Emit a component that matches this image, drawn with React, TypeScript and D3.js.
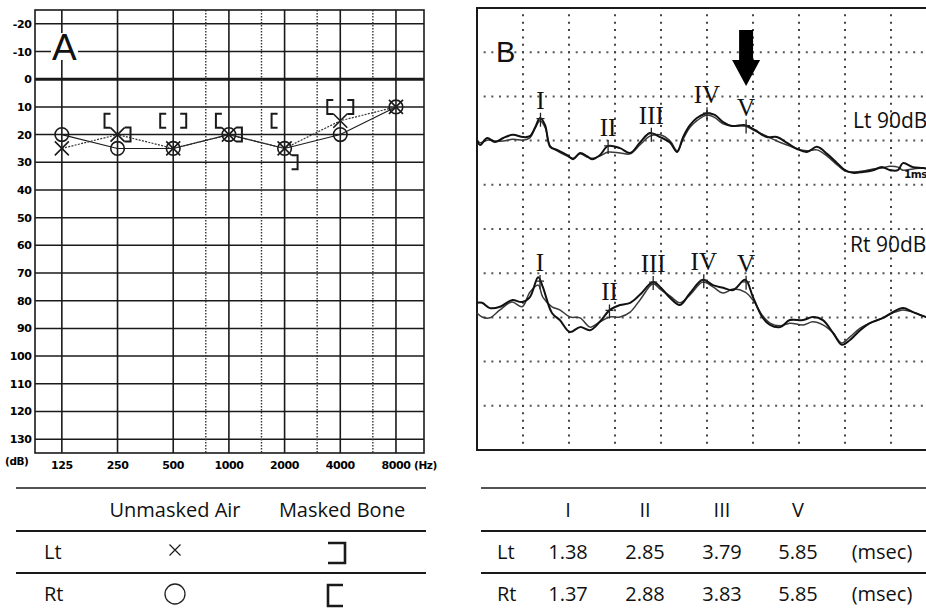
import React from "react";
import * as d3 from "d3";

// ---------- Panel A: audiogram ----------
const freqs = [125, 250, 500, 1000, 2000, 4000, 8000];
const freqLabels = ["125", "250", "500", "1000", "2000", "4000", "8000"];
const minorFreqs = [750, 1500, 3000, 6000];
const dbTicks = [-20, -10, 0, 10, 20, 30, 40, 50, 60, 70, 80, 90, 100, 110, 120, 130];
const ltAir = [25, 20, 25, 20, 25, 15, 10];
const rtAir = [20, 25, 25, 20, 25, 20, 10];
const boneFreqs = [250, 500, 1000, 2000, 4000];
const rtBone = [15, 15, 15, 15, 10];
const ltBone = [20, 15, 20, 30, 10];

// ---------- Panel B: ABR ----------
const ltTime = [0, 0.07, 0.22, 0.39, 0.57, 0.78, 1.0, 1.15, 1.26, 1.37, 1.48, 1.59, 1.74, 1.96, 2.09, 2.24, 2.39, 2.5, 2.67, 2.85, 3.11, 3.33, 3.54, 3.76, 3.98, 4.2, 4.35, 4.48, 4.63, 4.78, 5.0, 5.17, 5.35, 5.54, 5.83, 6.04, 6.3, 6.52, 6.74, 6.96, 7.17, 7.39, 7.61, 7.83, 8.0, 8.17, 8.39, 8.61, 8.8, 8.98, 9.15, 9.26, 9.48, 9.7, 9.96];
const ltTrace1 = [7.01, 6.9, 7.06, 6.97, 7.06, 7.13, 7.08, 7.1, 7.29, 7.51, 7.35, 6.86, 6.79, 6.67, 6.58, 6.72, 6.65, 6.58, 6.67, 6.88, 6.83, 6.72, 6.95, 7.17, 7.08, 6.95, 6.74, 7.08, 7.35, 7.51, 7.62, 7.58, 7.42, 7.33, 7.35, 7.24, 7.08, 7.08, 6.95, 6.81, 6.74, 6.86, 6.7, 6.49, 6.33, 6.27, 6.29, 6.33, 6.4, 6.33, 6.33, 6.49, 6.4, 6.38, 6.33];
const ltTrace2 = [7.01, 6.95, 7.01, 6.99, 6.99, 7.03, 7.01, 7.06, 7.27, 7.45, 7.3, 6.88, 6.77, 6.65, 6.6, 6.7, 6.63, 6.6, 6.65, 6.74, 6.72, 6.7, 6.9, 7.1, 7.13, 6.99, 6.77, 7.03, 7.3, 7.45, 7.58, 7.52, 7.38, 7.33, 7.33, 7.22, 7.1, 6.99, 6.9, 6.81, 6.77, 6.79, 6.65, 6.45, 6.31, 6.29, 6.31, 6.36, 6.38, 6.42, 6.4, 6.33, 6.36, 6.38, 6.31];
const rtTime = [0, 0.11, 0.28, 0.5, 0.76, 0.98, 1.15, 1.33, 1.43, 1.63, 1.8, 2.02, 2.24, 2.46, 2.67, 2.89, 3.11, 3.33, 3.54, 3.83, 3.98, 4.2, 4.41, 4.63, 4.91, 5.13, 5.35, 5.57, 5.83, 6.0, 6.2, 6.37, 6.59, 6.8, 7.09, 7.3, 7.52, 7.74, 7.93, 8.11, 8.33, 8.54, 8.83, 9.04, 9.26, 9.48, 9.76, 10];
const rtTrace1 = [3.33, 3.33, 3.21, 3.24, 3.39, 3.35, 3.46, 3.91, 3.69, 3.1, 2.94, 2.67, 2.78, 2.71, 2.9, 3.17, 3.28, 3.33, 3.51, 3.8, 3.69, 3.44, 3.28, 3.55, 3.85, 3.73, 3.67, 3.62, 3.85, 3.46, 3.01, 2.83, 2.78, 2.94, 2.94, 3.01, 2.94, 2.65, 2.38, 2.49, 2.71, 2.87, 2.99, 3.12, 3.21, 3.12, 3.01, 2.99];
const rtTrace2 = [3.1, 3.01, 2.99, 3.17, 3.35, 3.24, 3.57, 3.73, 3.46, 3.24, 3.17, 3.01, 2.99, 2.78, 2.9, 3.01, 3.01, 3.12, 3.39, 3.76, 3.64, 3.48, 3.33, 3.51, 3.8, 3.69, 3.55, 3.64, 3.57, 3.39, 3.05, 2.87, 2.81, 2.87, 2.83, 2.9, 2.83, 2.65, 2.42, 2.56, 2.76, 2.87, 2.99, 3.1, 3.17, 3.12, 3.01, 2.99];
const peakNames = ["I", "II", "III", "IV", "V"];
const ltPeaks = [1.38, 2.85, 3.79, 5.0, 5.85];
const rtPeaks = [1.37, 2.88, 3.83, 4.93, 5.85];

// ---------- Tables ----------
const legendCols = ["Unmasked Air", "Masked Bone"];
const sideRows = ["Lt", "Rt"];
const latencyCols = ["I", "II", "III", "V"];
const ltLatency = ["1.38", "2.85", "3.79", "5.85"];
const rtLatency = ["1.37", "2.88", "3.83", "5.85"];
const unitLabel = "(msec)";

const INK = "#1a1a1a";
const SANS = "'Open Sans', 'Liberation Sans', sans-serif";
const TICKFONT = "'DejaVu Sans', Verdana, sans-serif";

function interp(t: number, ts: number[], vs: number[]) {
  for (let i = 0; i < ts.length - 1; i++) {
    if (t >= ts[i] && t <= ts[i + 1]) {
      const f = (t - ts[i]) / (ts[i + 1] - ts[i]);
      return vs[i] + f * (vs[i + 1] - vs[i]);
    }
  }
  return vs[vs.length - 1];
}

export default function App() {
  // Panel A scales
  const xA = d3.scaleLog().base(2).domain([89.5, 11340]).range([35, 424]);
  const yA = d3.scaleLinear().domain([-25, 135]).range([10, 453]);
  // Panel B scales
  const xB = d3.scaleLinear().domain([0, 10]).range([477, 937]);
  const yB = d3.scaleLinear().domain([0, 10]).range([450, 8]);

  const airLine = d3
    .line<number>()
    .x((_, i) => xA(freqs[i]))
    .y((d) => yA(d));

  const trace = (ts: number[]) =>
    d3
      .line<number>()
      .x((_, i) => xB(ts[i]))
      .y((d) => yB(d))
      .curve(d3.curveCatmullRom.alpha(0.5));

  const aLeft = xA.range()[0];
  const aRight = xA.range()[1];
  const bLeft = xB.range()[0];
  const bRight = xB.range()[1];

  const cross = (cx: number, cy: number, r: number, key: string, sw = 1.6) => (
    <path
      key={key}
      d={`M${cx - r},${cy - r}L${cx + r},${cy + r}M${cx - r},${cy + r}L${cx + r},${cy - r}`}
      stroke={INK}
      strokeWidth={sw}
      fill="none"
    />
  );

  const bGridX = d3.range(1, 10).map((k) => xB(k));
  const bGridY = d3.range(1, 10).map((k) => yB(k));

  const renderPeaks = (peaks: number[], ts: number[], vs: number[], pref: string) =>
    peaks.map((p, i) => {
      const px = xB(p);
      const py = yB(interp(p, ts, vs));
      return (
        <g key={pref + i}>
          <path
            d={`M${px},${py - 6}V${py + 8}M${px - 4},${py}H${px + 4}`}
            stroke="#222"
            strokeWidth={1.3}
            fill="none"
          />
          <text
            x={px}
            y={py - 10}
            textAnchor="middle"
            fontFamily="'Liberation Serif', 'Times New Roman', serif"
            fontSize={25}
            fill="#111"
          >
            {peakNames[i]}
          </text>
        </g>
      );
    });

  const tableY = [488, 531, 573];
  const rowBase = [559, 601];
  const headBase = 517;
  const legX = [175, 342];
  const latX = [568, 645, 722, 798];

  return (
    <svg
      width={926}
      height={613}
      style={{ position: "absolute", left: 0, top: 0, background: "#fff" }}
    >
      <rect x={0} y={0} width={926} height={613} fill="#fff" />

      {/* ===== Panel A ===== */}
      <g>
        {dbTicks.map((d) => (
          <line
            key={"h" + d}
            x1={aLeft}
            x2={aRight}
            y1={yA(d)}
            y2={yA(d)}
            stroke={INK}
            strokeWidth={d === 0 ? 3 : 1.5}
          />
        ))}
        {freqs.map((f) => (
          <line key={"v" + f} x1={xA(f)} x2={xA(f)} y1={yA(-25)} y2={yA(135)} stroke={INK} strokeWidth={1.6} />
        ))}
        {minorFreqs.map((f) => (
          <line
            key={"m" + f}
            x1={xA(f)}
            x2={xA(f)}
            y1={yA(-25)}
            y2={yA(135)}
            stroke="#333"
            strokeWidth={1.4}
            strokeDasharray="1.5,1.5"
          />
        ))}
        <rect x={aLeft} y={yA(-25)} width={aRight - aLeft} height={yA(135) - yA(-25)} fill="none" stroke={INK} strokeWidth={1.6} />

        {dbTicks.map((d) => (
          <text
            key={"yt" + d}
            x={31.5}
            y={yA(d) + 4}
            textAnchor="end"
            fontFamily={TICKFONT}
            fontWeight="bold"
            fontSize={11}
            letterSpacing={-0.4}
            fill="#000"
          >
            {d}
          </text>
        ))}
        {freqs.map((f, i) => (
          <text
            key={"xt" + f}
            x={xA(f)}
            y={469}
            textAnchor="middle"
            fontFamily={TICKFONT}
            fontWeight="bold"
            fontSize={11}
            letterSpacing={-0.4}
            fill="#000"
          >
            {freqLabels[i]}
          </text>
        ))}
        <text x={5} y={465} fontFamily={TICKFONT} fontWeight="bold" fontSize={10.5} letterSpacing={-0.4} fill="#000">
          (dB)
        </text>
        <text x={414} y={469} fontFamily={TICKFONT} fontWeight="bold" fontSize={10.5} letterSpacing={-0.4} fill="#000">
          (Hz)
        </text>

        {/* A label */}
        <rect x={51} y={33} width={27} height={27} fill="#fff" />
        <text x={52} y={60} fontFamily="'Liberation Sans', Arial, sans-serif" fontSize={37} fill="#111">
          A
        </text>

        {/* air lines */}
        <path d={airLine(rtAir) || ""} fill="none" stroke={INK} strokeWidth={1.1} />
        <path d={airLine(ltAir) || ""} fill="none" stroke="#333" strokeWidth={1.2} strokeDasharray="2,1.3" />

        {/* Rt air: circles */}
        {rtAir.map((d, i) => (
          <circle key={"o" + i} cx={xA(freqs[i])} cy={yA(d)} r={6.8} fill="none" stroke={INK} strokeWidth={1.6} />
        ))}
        {/* Lt air: crosses */}
        {ltAir.map((d, i) => cross(xA(freqs[i]), yA(d), 7, "x" + i))}

        {/* Masked bone */}
        {rtBone.map((d, i) => {
          const cx = xA(boneFreqs[i]);
          const cy = yA(d);
          return (
            <path
              key={"rb" + i}
              d={`M${cx - 7},${cy - 7}H${cx - 13}V${cy + 7}H${cx - 7}`}
              fill="none"
              stroke={INK}
              strokeWidth={2}
            />
          );
        })}
        {ltBone.map((d, i) => {
          const cx = xA(boneFreqs[i]);
          const cy = yA(d);
          return (
            <path
              key={"lb" + i}
              d={`M${cx + 7},${cy - 7}H${cx + 13}V${cy + 7}H${cx + 7}`}
              fill="none"
              stroke={INK}
              strokeWidth={2}
            />
          );
        })}
      </g>

      {/* ===== Panel B ===== */}
      <g>
        {bGridY.map((y, i) => (
          <line
            key={"bh" + i}
            x1={bLeft}
            x2={bRight}
            y1={y}
            y2={y}
            stroke="#555"
            strokeWidth={2}
            strokeDasharray="2,5.67"
            strokeDashoffset={-6.67}
          />
        ))}
        {bGridX.map((x, i) => (
          <line
            key={"bv" + i}
            x1={x}
            x2={x}
            y1={yB(10)}
            y2={yB(0)}
            stroke="#444"
            strokeWidth={2}
            strokeDasharray="2,5.37"
            strokeDashoffset={-6.37}
          />
        ))}
        <path
          d={`M${bRight},${yB(10)}H${bLeft}V${yB(0)}H${bRight}`}
          fill="none"
          stroke={INK}
          strokeWidth={2}
        />

        {/* B label */}
        <text x={496} y={62} fontFamily="'Liberation Sans', Arial, sans-serif" fontSize={29} fill="#111">
          B
        </text>

        {/* traces */}
        <path d={trace(ltTime)(ltTrace2) || ""} fill="none" stroke="#3a3a3a" strokeWidth={1.5} />
        <path d={trace(ltTime)(ltTrace1) || ""} fill="none" stroke="#111" strokeWidth={2} />
        <path d={trace(rtTime)(rtTrace2) || ""} fill="none" stroke="#3a3a3a" strokeWidth={1.5} />
        <path d={trace(rtTime)(rtTrace1) || ""} fill="none" stroke="#111" strokeWidth={2} />

        {renderPeaks(ltPeaks, ltTime, ltTrace1, "lp")}
        {renderPeaks(rtPeaks, rtTime, rtTrace1, "rp")}

        {/* arrow at wave V */}
        <path
          d={`M${xB(5.85) - 7},30H${xB(5.85) + 7}V60H${xB(5.85) + 14}L${xB(5.85)},86L${xB(5.85) - 14},60H${xB(5.85) - 7}Z`}
          fill="#000"
        />

        <text x={853} y={128} fontFamily={SANS} fontSize={21} fill="#111">
          Lt 90dB
        </text>
        <text x={850} y={252} fontFamily={SANS} fontSize={21} fill="#111">
          Rt 90dB
        </text>
        <text x={904} y={178} fontFamily={TICKFONT} fontWeight="bold" fontSize={10.5} letterSpacing={-0.5} fill="#111">
          1ms
        </text>
      </g>

      {/* ===== Legend table (left) ===== */}
      <g>
        {tableY.map((y, i) => (
          <line key={"lt" + i} x1={16} x2={426} y1={y} y2={y} stroke={INK} strokeWidth={i === 0 ? 1.6 : 1.8} />
        ))}
        {legendCols.map((c, i) => (
          <text key={"lc" + i} x={legX[i]} y={headBase} textAnchor="middle" fontFamily={SANS} fontSize={20} fill="#111">
            {c}
          </text>
        ))}
        {sideRows.map((r, i) => (
          <text key={"lr" + i} x={44} y={rowBase[i]} fontFamily={SANS} fontSize={20} fill="#111">
            {r}
          </text>
        ))}
        {cross(legX[0], 550, 5.5, "legx", 1.2)}
        <circle cx={legX[0]} cy={594} r={10} fill="none" stroke="#222" strokeWidth={1.3} />
        <path d={`M328,543H345V563H328`} fill="none" stroke={INK} strokeWidth={2.6} />
        <path d={`M343,585H328V606H343`} fill="none" stroke={INK} strokeWidth={2.6} />
      </g>

      {/* ===== Latency table (right) ===== */}
      <g>
        {tableY.map((y, i) => (
          <line key={"rt" + i} x1={481} x2={940} y1={y} y2={y} stroke={INK} strokeWidth={i === 0 ? 1.6 : 1.8} />
        ))}
        {latencyCols.map((c, i) => (
          <text key={"hc" + i} x={latX[i]} y={headBase} textAnchor="middle" fontFamily={SANS} fontSize={20} fill="#111">
            {c}
          </text>
        ))}
        {sideRows.map((r, i) => (
          <text key={"sr" + i} x={497} y={rowBase[i]} fontFamily={SANS} fontSize={20} fill="#111">
            {r}
          </text>
        ))}
        {[ltLatency, rtLatency].map((row, ri) =>
          row.map((v, i) => (
            <text key={"v" + ri + i} x={latX[i]} y={rowBase[ri]} textAnchor="middle" fontFamily={SANS} fontSize={20} fill="#111">
              {v}
            </text>
          ))
        )}
        {sideRows.map((_, i) => (
          <text key={"u" + i} x={882} y={rowBase[i]} textAnchor="middle" fontFamily={SANS} fontSize={20} fill="#111">
            {unitLabel}
          </text>
        ))}
      </g>
    </svg>
  );
}
